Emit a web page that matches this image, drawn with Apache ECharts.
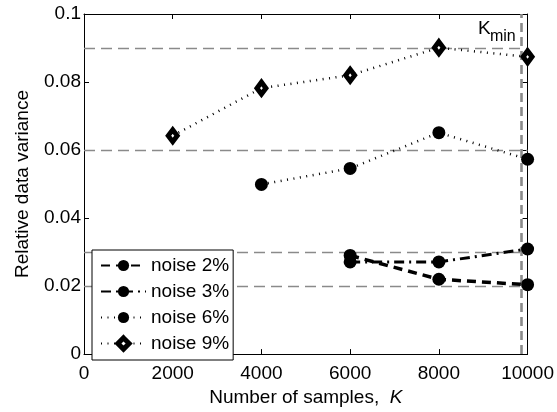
<!DOCTYPE html>
<html><head><meta charset="utf-8">
<script src="https://cdn.jsdelivr.net/npm/echarts@6/dist/echarts.min.js"></script>
<style>html,body{margin:0;padding:0;background:#fff}#c{width:557px;height:412px}</style>
</head><body><div id="c"></div>
<script>
const samples = [2000, 4000, 6000, 8000, 10000];
const noise2 = [null, null, 0.0290, 0.0220, 0.0204];
const noise3 = [null, null, 0.0271, 0.0271, 0.0309];
const noise6 = [null, 0.0499, 0.0546, 0.0651, 0.0573];
const noise9 = [0.0642, 0.0782, 0.0820, 0.0901, 0.0874];
const refLevels = [0.02, 0.03, 0.06, 0.09];
const kMin = 9850;
const xTicks = [0, 2000, 4000, 6000, 8000, 10000];
const yTicks = [0, 0.02, 0.04, 0.06, 0.08, 0.1];

const FONT = 'Liberation Sans, Arial, sans-serif';
const pts = arr => samples.map((x, i) => [x, arr[i]]).filter(p => p[1] != null);

const chart = echarts.init(document.getElementById('c'), null, {renderer: 'canvas'});
const circle = {symbol: 'circle', symbolSize: 13, itemStyle: {color: '#000'}};
const axisCommon = {
  axisLine: {show: true, onZero: false, lineStyle: {color: '#000', width: 1}},
  axisTick: {show: true, inside: true, length: 5, lineStyle: {color: '#000'}},
  splitLine: {show: false}
};
const option = {
  animation: false,
  backgroundColor: '#fff',
  textStyle: {fontFamily: FONT},
  grid: {left: 84, right: 28, top: 14, bottom: 50},
  legend: {
    orient: 'vertical', left: 92, top: 250, z: 20, zlevel: 1,
    backgroundColor: '#fff', borderColor: '#000', borderWidth: 1,
    padding: [6, 4, 7, 8], itemGap: 7, itemWidth: 45, itemHeight: 14,
    textStyle: {fontSize: 19, color: '#000', fontFamily: FONT},
    data: ['noise 2%', 'noise 3%', 'noise 6%',
      {name: 'noise 9%', itemStyle: {color: '#fff', borderColor: '#000', borderWidth: 5}}]
  },
  xAxis: [
    Object.assign({}, axisCommon, {
      type: 'value', min: 0, max: 10000, interval: 2000, position: 'bottom',
      axisLabel: {fontSize: 19, color: '#000', margin: 10, fontFamily: FONT,
        formatter: v => xTicks.includes(v) ? String(v) : ''},
      name: '{a|Number of samples,  }{b|K}', nameLocation: 'middle', nameGap: 31,
      nameTextStyle: {rich: {a: {fontSize: 19, color: '#000', fontFamily: FONT},
        b: {fontSize: 19, color: '#000', fontStyle: 'italic', fontFamily: FONT}}}
    }),
    Object.assign({}, axisCommon, {
      type: 'value', min: 0, max: 10000, interval: 2000, position: 'top',
      axisLabel: {show: false}
    })
  ],
  yAxis: [
    Object.assign({}, axisCommon, {
      type: 'value', min: 0, max: 0.1, interval: 0.02, position: 'left',
      axisLabel: {fontSize: 19, color: '#000', margin: 3, fontFamily: FONT,
        formatter: v => String(+v.toFixed(2))},
      name: 'Relative data variance', nameLocation: 'middle', nameGap: 52, nameRotate: 90,
      nameTextStyle: {fontSize: 19, color: '#000', fontFamily: FONT}
    }),
    Object.assign({}, axisCommon, {
      type: 'value', min: 0, max: 0.1, interval: 0.02, position: 'right',
      axisLabel: {show: false}
    })
  ],
  series: [
    {
      name: 'refs', type: 'line', data: [], silent: true, z: 1,
      markLine: {
        silent: true, symbol: 'none', label: {show: false}, z: 1,
        lineStyle: {color: '#8a8a8a', width: 1.3, type: [11, 6]},
        data: refLevels.map(v => ({yAxis: v}))
      }
    },
    {
      name: 'kmin', type: 'line', data: [], silent: true, z: 1,
      markLine: {
        silent: true, symbol: 'none', label: {show: false}, z: 1,
        lineStyle: {color: '#8a8a8a', width: 2.6, type: [9, 5]},
        data: [{xAxis: kMin}]
      }
    },
    Object.assign({name: 'noise 2%', type: 'line', data: pts(noise2),
      lineStyle: {color: '#000', width: 3.5, type: [9, 6]}}, circle),
    Object.assign({name: 'noise 3%', type: 'line', data: pts(noise3),
      lineStyle: {color: '#000', width: 3, type: [10, 5, 2, 5]}}, circle),
    Object.assign({name: 'noise 6%', type: 'line', data: pts(noise6),
      lineStyle: {color: '#000', width: 2.5, type: [1, 5.5]}}, circle),
    {name: 'noise 9%', type: 'line', data: pts(noise9),
      lineStyle: {color: '#000', width: 2.5, type: [1, 5.5]},
      symbol: 'diamond', symbolSize: [9, 12],
      itemStyle: {color: '#fff', borderColor: '#000', borderWidth: 5}}
  ]
};
chart.setOption(option);
const p = chart.convertToPixel({xAxisIndex: 0, yAxisIndex: 0}, [kMin, 0.1]);
chart.setOption({graphic: [
  {type: 'text', left: p[0] - 43, top: p[1] + 5, z: 100,
   style: {text: 'K', fontSize: 19, fill: '#000', fontFamily: FONT}},
  {type: 'text', left: p[0] - 31, top: p[1] + 15, z: 100,
   style: {text: 'min', fontSize: 16, fill: '#000', fontFamily: FONT}}
]});
</script></body></html>
